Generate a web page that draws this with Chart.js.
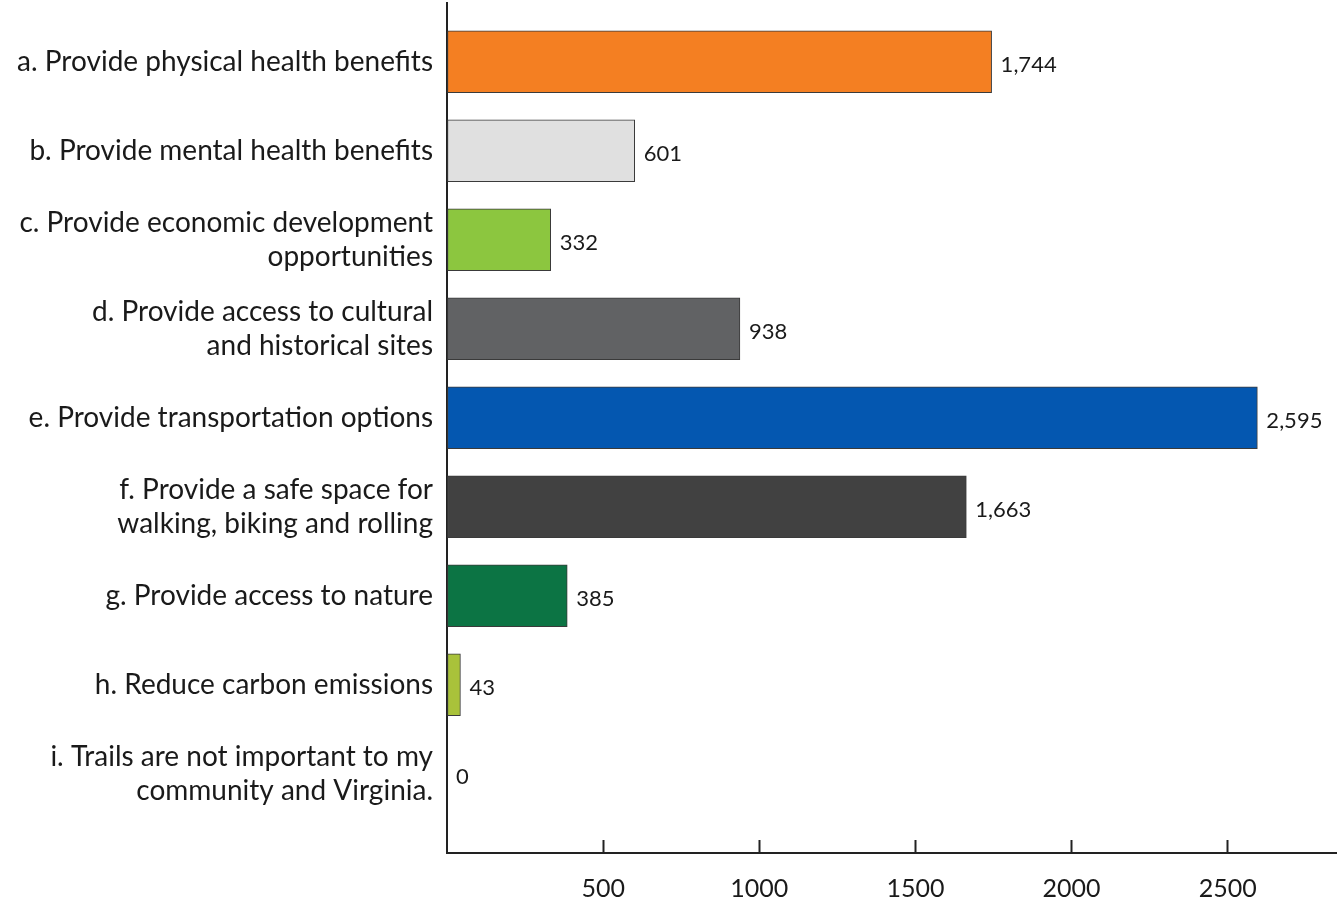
<!DOCTYPE html>
<html>
<head>
<meta charset="utf-8">
<script src="https://cdn.jsdelivr.net/npm/chart.js@4"></script>
<style>
  body { margin: 0; background: #fff; }
</style>
</head>
<body>
<canvas id="trailsChart" width="1337" height="903"></canvas>
<script>
  // Trails benefits - number of responses
  const categories = [
    'a. Provide physical health benefits',
    'b. Provide mental health benefits',
    ['c. Provide economic development', 'opportunities'],
    ['d. Provide access to cultural', 'and historical sites'],
    'e. Provide transportation options',
    ['f. Provide a safe space for', 'walking, biking and rolling'],
    'g. Provide access to nature',
    'h. Reduce carbon emissions',
    ['i. Trails are not important to my', 'community and Virginia.']
  ];
  const responses = [1744, 601, 332, 938, 2595, 1663, 385, 43, 0];
  const xTickLabels = [500, 1000, 1500, 2000, 2500];

  const barColors = ['#f47f22', '#e0e0e0', '#8cc63f', '#616264', '#0457b0',
                     '#414141', '#0c7444', '#a9c23a', '#ffffff'];

  const FONT = 'Lato';

  // value label at the end of each bar
  const valueLabels = {
    id: 'valueLabels',
    afterDatasetsDraw(chart) {
      const ctx = chart.ctx;
      const meta = chart.getDatasetMeta(0);
      ctx.save();
      ctx.font = '22px ' + FONT;
      ctx.fillStyle = '#1a1a1a';
      ctx.textAlign = 'left';
      ctx.textBaseline = 'middle';
      meta.data.forEach((bar, i) => {
        ctx.fillText(responses[i].toLocaleString('en-US'), bar.x + 9, bar.y + 3);
      });
      ctx.restore();
    }
  };

  new Chart(document.getElementById('trailsChart'), {
    type: 'bar',
    data: {
      labels: categories,
      datasets: [{
        data: responses,
        backgroundColor: barColors,
        borderColor: '#3a3a3a',
        borderWidth: 1,
        borderSkipped: false,
        barThickness: 62
      }]
    },
    options: {
      indexAxis: 'y',
      responsive: false,
      animation: false,
      layout: { padding: { top: 3, right: 0, bottom: 0, left: 0 } },
      plugins: {
        legend: { display: false },
        tooltip: { enabled: false }
      },
      scales: {
        x: {
          bounds: 'data',
          // axis runs a bit past 2500 to the right edge
          afterDataLimits(scale) {
            scale.min = 0;
            scale.max = 2850;
          },
          ticks: {
            stepSize: 500,
            autoSkip: false,
            padding: 34,
            color: '#1a1a1a',
            font: { family: FONT, size: 25 },
            callback: (v) => xTickLabels.includes(v) ? String(v) : ''
          },
          grid: {
            drawOnChartArea: false,
            drawTicks: true,
            tickLength: -13,
            tickWidth: 2,
            tickColor: (c) => c.tick && xTickLabels.includes(c.tick.value) ? '#222' : 'rgba(0,0,0,0)'
          },
          border: { color: '#222', width: 2 },
          afterFit(scale) {
            scale.height = 50;
            scale.paddingLeft = 0;
            scale.paddingRight = 0;
          }
        },
        y: {
          ticks: {
            autoSkip: false,
            padding: 14,
            color: '#1a1a1a',
            font: { family: FONT, size: 28, lineHeight: 1.22 }
          },
          grid: { display: false, drawTicks: false },
          border: { color: '#222', width: 2 },
          afterFit(scale) {
            scale.width = 447;
            scale.paddingTop = 0;
            scale.paddingBottom = 0;
          },
          // rows are not quite evenly spread in the original: shift the band a little
          afterBuildTicks(scale) {
            scale._startValue = -0.66;
            scale._valueRange = 9.55;
          }
        }
      }
    },
    plugins: [valueLabels]
  });
</script>
</body>
</html>
